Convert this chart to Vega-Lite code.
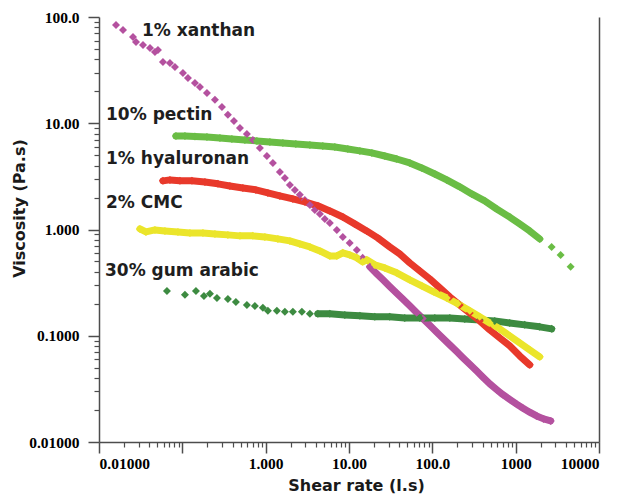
{
  "$schema": "https://vega.github.io/schema/vega-lite/v6.json",
  "width": 500,
  "height": 425,
  "autosize": "none",
  "padding": {"left": 99, "top": 17, "right": 22, "bottom": 55},
  "background": "white",
  "config": {
    "view": {"stroke": null},
    "axis": {"grid": false, "domainColor": "#4d4d4d", "tickColor": "#4d4d4d", "domainWidth": 1.5, "tickWidth": 1.5}
  },
  "datasets": {
    "flow": [
      {"sample": "1% xanthan", "rate": 0.0160, "visc": 84.1},
      {"sample": "1% xanthan", "rate": 0.0194, "visc": 75.5},
      {"sample": "1% xanthan", "rate": 0.0256, "visc": 64.8},
      {"sample": "1% xanthan", "rate": 0.0278, "visc": 58.2},
      {"sample": "1% xanthan", "rate": 0.0337, "visc": 54.5},
      {"sample": "1% xanthan", "rate": 0.0409, "visc": 51.1},
      {"sample": "1% xanthan", "rate": 0.0469, "visc": 46.9},
      {"sample": "1% xanthan", "rate": 0.0510, "visc": 48.9},
      {"sample": "1% xanthan", "rate": 0.0585, "visc": 37.7},
      {"sample": "1% xanthan", "rate": 0.0710, "visc": 36.9},
      {"sample": "1% xanthan", "rate": 0.0815, "visc": 33.9},
      {"sample": "1% xanthan", "rate": 0.1017, "visc": 29.7},
      {"sample": "1% xanthan", "rate": 0.1167, "visc": 26.7},
      {"sample": "1% xanthan", "rate": 0.1416, "visc": 23.9},
      {"sample": "1% xanthan", "rate": 0.1626, "visc": 21.9},
      {"sample": "1% xanthan", "rate": 0.1972, "visc": 19.3},
      {"sample": "1% xanthan", "rate": 0.246, "visc": 16.6},
      {"sample": "1% xanthan", "rate": 0.2985, "visc": 14.2},
      {"sample": "1% xanthan", "rate": 0.352, "visc": 12.0},
      {"sample": "1% xanthan", "rate": 0.416, "visc": 10.5},
      {"sample": "1% xanthan", "rate": 0.491, "visc": 9.03},
      {"sample": "1% xanthan", "rate": 0.595, "visc": 7.93},
      {"sample": "1% xanthan", "rate": 0.702, "visc": 6.96},
      {"sample": "1% xanthan", "rate": 0.852, "visc": 5.86},
      {"sample": "1% xanthan", "rate": 1.034, "visc": 4.92},
      {"sample": "1% xanthan", "rate": 1.220, "visc": 4.23},
      {"sample": "1% xanthan", "rate": 1.480, "visc": 3.48},
      {"sample": "1% xanthan", "rate": 1.70, "visc": 3.06},
      {"sample": "1% xanthan", "rate": 1.951, "visc": 2.63},
      {"sample": "1% xanthan", "rate": 2.24, "visc": 2.36},
      {"sample": "1% xanthan", "rate": 2.57, "visc": 2.12},
      {"sample": "1% xanthan", "rate": 2.95, "visc": 1.90},
      {"sample": "1% xanthan", "rate": 3.39, "visc": 1.70},
      {"sample": "1% xanthan", "rate": 3.89, "visc": 1.53},
      {"sample": "1% xanthan", "rate": 4.47, "visc": 1.40},
      {"sample": "1% xanthan", "rate": 5.13, "visc": 1.258},
      {"sample": "1% xanthan", "rate": 5.89, "visc": 1.15},
      {"sample": "1% xanthan", "rate": 7.14, "visc": 0.991},
      {"sample": "1% xanthan", "rate": 8.43, "visc": 0.852},
      {"sample": "1% xanthan", "rate": 10.2, "visc": 0.748},
      {"sample": "1% xanthan", "rate": 12.4, "visc": 0.643},
      {"sample": "1% xanthan", "rate": 14.6, "visc": 0.541},
      {"sample": "1% xanthan", "rate": 17.8, "visc": 0.445},
      {"sample": "1% xanthan", "rate": 21.5, "visc": 0.384},
      {"sample": "1% xanthan", "rate": 25.4, "visc": 0.338},
      {"sample": "1% xanthan", "rate": 30.8, "visc": 0.2915},
      {"sample": "1% xanthan", "rate": 37.4, "visc": 0.2517},
      {"sample": "1% xanthan", "rate": 44.2, "visc": 0.2214},
      {"sample": "1% xanthan", "rate": 53.6, "visc": 0.1911},
      {"sample": "1% xanthan", "rate": 65.0, "visc": 0.1650},
      {"sample": "1% xanthan", "rate": 76.7, "visc": 0.1451},
      {"sample": "1% xanthan", "rate": 93.1, "visc": 0.1253},
      {"sample": "1% xanthan", "rate": 113, "visc": 0.1081},
      {"sample": "1% xanthan", "rate": 133, "visc": 0.0952},
      {"sample": "1% xanthan", "rate": 162, "visc": 0.0821},
      {"sample": "1% xanthan", "rate": 196, "visc": 0.0709},
      {"sample": "1% xanthan", "rate": 231, "visc": 0.0624},
      {"sample": "1% xanthan", "rate": 281, "visc": 0.0538},
      {"sample": "1% xanthan", "rate": 341, "visc": 0.0465},
      {"sample": "1% xanthan", "rate": 402, "visc": 0.0409},
      {"sample": "1% xanthan", "rate": 488, "visc": 0.0353},
      {"sample": "1% xanthan", "rate": 592, "visc": 0.0311},
      {"sample": "1% xanthan", "rate": 698, "visc": 0.0280},
      {"sample": "1% xanthan", "rate": 847, "visc": 0.0252},
      {"sample": "1% xanthan", "rate": 1028, "visc": 0.0227},
      {"sample": "1% xanthan", "rate": 1213, "visc": 0.0209},
      {"sample": "1% xanthan", "rate": 1472, "visc": 0.0191},
      {"sample": "1% xanthan", "rate": 1786, "visc": 0.0176},
      {"sample": "1% xanthan", "rate": 2167, "visc": 0.0165},
      {"sample": "1% xanthan", "rate": 2630, "visc": 0.0158},

      {"sample": "30% gum arabic", "rate": 0.0654, "visc": 0.264},
      {"sample": "30% gum arabic", "rate": 0.1074, "visc": 0.243},
      {"sample": "30% gum arabic", "rate": 0.1456, "visc": 0.264},
      {"sample": "30% gum arabic", "rate": 0.1816, "visc": 0.237},
      {"sample": "30% gum arabic", "rate": 0.2143, "visc": 0.248},
      {"sample": "30% gum arabic", "rate": 0.260, "visc": 0.227},
      {"sample": "30% gum arabic", "rate": 0.352, "visc": 0.222},
      {"sample": "30% gum arabic", "rate": 0.439, "visc": 0.208},
      {"sample": "30% gum arabic", "rate": 0.595, "visc": 0.195},
      {"sample": "30% gum arabic", "rate": 0.742, "visc": 0.191},
      {"sample": "30% gum arabic", "rate": 0.926, "visc": 0.183},
      {"sample": "30% gum arabic", "rate": 1.063, "visc": 0.1715},
      {"sample": "30% gum arabic", "rate": 1.362, "visc": 0.1715},
      {"sample": "30% gum arabic", "rate": 1.70, "visc": 0.168},
      {"sample": "30% gum arabic", "rate": 2.12, "visc": 0.168},
      {"sample": "30% gum arabic", "rate": 2.72, "visc": 0.168},
      {"sample": "30% gum arabic", "rate": 3.39, "visc": 0.1607},
      {"sample": "30% gum arabic", "rate": 4.23, "visc": 0.1607},
      {"sample": "30% gum arabic", "rate": 5.89, "visc": 0.1607},
      {"sample": "30% gum arabic", "rate": 8.90, "visc": 0.157},
      {"sample": "30% gum arabic", "rate": 13.5, "visc": 0.154},
      {"sample": "30% gum arabic", "rate": 20.4, "visc": 0.151},
      {"sample": "30% gum arabic", "rate": 30.8, "visc": 0.151},
      {"sample": "30% gum arabic", "rate": 46.7, "visc": 0.147},
      {"sample": "30% gum arabic", "rate": 70.6, "visc": 0.147},
      {"sample": "30% gum arabic", "rate": 107, "visc": 0.147},
      {"sample": "30% gum arabic", "rate": 162, "visc": 0.147},
      {"sample": "30% gum arabic", "rate": 245, "visc": 0.144},
      {"sample": "30% gum arabic", "rate": 370, "visc": 0.141},
      {"sample": "30% gum arabic", "rate": 560, "visc": 0.138},
      {"sample": "30% gum arabic", "rate": 847, "visc": 0.132},
      {"sample": "30% gum arabic", "rate": 1282, "visc": 0.1266},
      {"sample": "30% gum arabic", "rate": 1941, "visc": 0.1213},
      {"sample": "30% gum arabic", "rate": 2703, "visc": 0.1161},

      {"sample": "10% pectin", "rate": 0.0838, "visc": 7.59},
      {"sample": "10% pectin", "rate": 0.1074, "visc": 7.59},
      {"sample": "10% pectin", "rate": 0.1416, "visc": 7.51},
      {"sample": "10% pectin", "rate": 0.1972, "visc": 7.43},
      {"sample": "10% pectin", "rate": 0.2825, "visc": 7.27},
      {"sample": "10% pectin", "rate": 0.393, "visc": 7.12},
      {"sample": "10% pectin", "rate": 0.563, "visc": 6.96},
      {"sample": "10% pectin", "rate": 0.784, "visc": 6.82},
      {"sample": "10% pectin", "rate": 1.123, "visc": 6.67},
      {"sample": "10% pectin", "rate": 1.608, "visc": 6.53},
      {"sample": "10% pectin", "rate": 2.30, "visc": 6.39},
      {"sample": "10% pectin", "rate": 3.39, "visc": 6.25},
      {"sample": "10% pectin", "rate": 4.85, "visc": 6.12},
      {"sample": "10% pectin", "rate": 6.76, "visc": 5.98},
      {"sample": "10% pectin", "rate": 9.68, "visc": 5.73},
      {"sample": "10% pectin", "rate": 13.5, "visc": 5.49},
      {"sample": "10% pectin", "rate": 18.8, "visc": 5.26},
      {"sample": "10% pectin", "rate": 26.9, "visc": 4.92},
      {"sample": "10% pectin", "rate": 37.4, "visc": 4.61},
      {"sample": "10% pectin", "rate": 53.6, "visc": 4.23},
      {"sample": "10% pectin", "rate": 74.6, "visc": 3.80},
      {"sample": "10% pectin", "rate": 107, "visc": 3.33},
      {"sample": "10% pectin", "rate": 149, "visc": 2.93},
      {"sample": "10% pectin", "rate": 213, "visc": 2.52},
      {"sample": "10% pectin", "rate": 297, "visc": 2.16},
      {"sample": "10% pectin", "rate": 425, "visc": 1.86},
      {"sample": "10% pectin", "rate": 592, "visc": 1.56},
      {"sample": "10% pectin", "rate": 847, "visc": 1.31},
      {"sample": "10% pectin", "rate": 1117, "visc": 1.129},
      {"sample": "10% pectin", "rate": 1472, "visc": 0.970},
      {"sample": "10% pectin", "rate": 1941, "visc": 0.816},
      {"sample": "10% pectin", "rate": 2703, "visc": 0.686},
      {"sample": "10% pectin", "rate": 3465, "visc": 0.577},
      {"sample": "10% pectin", "rate": 4566, "visc": 0.445},

      {"sample": "1% hyaluronan", "rate": 0.0585, "visc": 2.87},
      {"sample": "1% hyaluronan", "rate": 0.0710, "visc": 2.93},
      {"sample": "1% hyaluronan", "rate": 0.0936, "visc": 2.87},
      {"sample": "1% hyaluronan", "rate": 0.1303, "visc": 2.87},
      {"sample": "1% hyaluronan", "rate": 0.1866, "visc": 2.80},
      {"sample": "1% hyaluronan", "rate": 0.2673, "visc": 2.69},
      {"sample": "1% hyaluronan", "rate": 0.372, "visc": 2.57},
      {"sample": "1% hyaluronan", "rate": 0.533, "visc": 2.46},
      {"sample": "1% hyaluronan", "rate": 0.763, "visc": 2.36},
      {"sample": "1% hyaluronan", "rate": 1.063, "visc": 2.21},
      {"sample": "1% hyaluronan", "rate": 1.480, "visc": 2.07},
      {"sample": "1% hyaluronan", "rate": 2.12, "visc": 1.94},
      {"sample": "1% hyaluronan", "rate": 2.95, "visc": 1.82},
      {"sample": "1% hyaluronan", "rate": 4.23, "visc": 1.67},
      {"sample": "1% hyaluronan", "rate": 5.89, "visc": 1.496},
      {"sample": "1% hyaluronan", "rate": 8.43, "visc": 1.31},
      {"sample": "1% hyaluronan", "rate": 11.7, "visc": 1.129},
      {"sample": "1% hyaluronan", "rate": 16.3, "visc": 0.970},
      {"sample": "1% hyaluronan", "rate": 22.1, "visc": 0.834},
      {"sample": "1% hyaluronan", "rate": 30.8, "visc": 0.686},
      {"sample": "1% hyaluronan", "rate": 40.6, "visc": 0.589},
      {"sample": "1% hyaluronan", "rate": 53.6, "visc": 0.485},
      {"sample": "1% hyaluronan", "rate": 70.6, "visc": 0.408},
      {"sample": "1% hyaluronan", "rate": 93.1, "visc": 0.343},
      {"sample": "1% hyaluronan", "rate": 123, "visc": 0.282},
      {"sample": "1% hyaluronan", "rate": 162, "visc": 0.232},
      {"sample": "1% hyaluronan", "rate": 213, "visc": 0.195},
      {"sample": "1% hyaluronan", "rate": 281, "visc": 0.164},
      {"sample": "1% hyaluronan", "rate": 370, "visc": 0.138},
      {"sample": "1% hyaluronan", "rate": 488, "visc": 0.1136},
      {"sample": "1% hyaluronan", "rate": 643, "visc": 0.0955},
      {"sample": "1% hyaluronan", "rate": 847, "visc": 0.0804},
      {"sample": "1% hyaluronan", "rate": 1117, "visc": 0.0647},
      {"sample": "1% hyaluronan", "rate": 1472, "visc": 0.0532},

      {"sample": "2% CMC", "rate": 0.0310, "visc": 1.013},
      {"sample": "2% CMC", "rate": 0.0366, "visc": 0.949},
      {"sample": "2% CMC", "rate": 0.0469, "visc": 0.991},
      {"sample": "2% CMC", "rate": 0.0618, "visc": 0.970},
      {"sample": "2% CMC", "rate": 0.0886, "visc": 0.949},
      {"sample": "2% CMC", "rate": 0.1233, "visc": 0.929},
      {"sample": "2% CMC", "rate": 0.1766, "visc": 0.929},
      {"sample": "2% CMC", "rate": 0.246, "visc": 0.909},
      {"sample": "2% CMC", "rate": 0.352, "visc": 0.890},
      {"sample": "2% CMC", "rate": 0.491, "visc": 0.871},
      {"sample": "2% CMC", "rate": 0.702, "visc": 0.871},
      {"sample": "2% CMC", "rate": 0.978, "visc": 0.852},
      {"sample": "2% CMC", "rate": 1.401, "visc": 0.816},
      {"sample": "2% CMC", "rate": 1.951, "visc": 0.781},
      {"sample": "2% CMC", "rate": 2.57, "visc": 0.732},
      {"sample": "2% CMC", "rate": 3.39, "visc": 0.686},
      {"sample": "2% CMC", "rate": 4.47, "visc": 0.629},
      {"sample": "2% CMC", "rate": 5.89, "visc": 0.564},
      {"sample": "2% CMC", "rate": 7.14, "visc": 0.564},
      {"sample": "2% CMC", "rate": 8.43, "visc": 0.603},
      {"sample": "2% CMC", "rate": 10.2, "visc": 0.577},
      {"sample": "2% CMC", "rate": 12.4, "visc": 0.541},
      {"sample": "2% CMC", "rate": 14.6, "visc": 0.496},
      {"sample": "2% CMC", "rate": 16.3, "visc": 0.518},
      {"sample": "2% CMC", "rate": 20.4, "visc": 0.465},
      {"sample": "2% CMC", "rate": 26.9, "visc": 0.435},
      {"sample": "2% CMC", "rate": 37.4, "visc": 0.391},
      {"sample": "2% CMC", "rate": 53.6, "visc": 0.336},
      {"sample": "2% CMC", "rate": 74.6, "visc": 0.295},
      {"sample": "2% CMC", "rate": 104, "visc": 0.259},
      {"sample": "2% CMC", "rate": 149, "visc": 0.227},
      {"sample": "2% CMC", "rate": 202, "visc": 0.200},
      {"sample": "2% CMC", "rate": 281, "visc": 0.1715},
      {"sample": "2% CMC", "rate": 370, "visc": 0.151},
      {"sample": "2% CMC", "rate": 488, "visc": 0.132},
      {"sample": "2% CMC", "rate": 643, "visc": 0.1161},
      {"sample": "2% CMC", "rate": 847, "visc": 0.0998},
      {"sample": "2% CMC", "rate": 1117, "visc": 0.0857},
      {"sample": "2% CMC", "rate": 1472, "visc": 0.0737},
      {"sample": "2% CMC", "rate": 1941, "visc": 0.0633}
    ],
    "labels": [
      {"label": "1% xanthan", "x": 0.0328, "y": 73.8},
      {"label": "10% pectin", "x": 0.01214, "y": 11.97},
      {"label": "1% hyaluronan", "x": 0.01214, "y": 4.61},
      {"label": "2% CMC", "x": 0.01214, "y": 1.78},
      {"label": "30% gum arabic", "x": 0.0118, "y": 0.408}
    ]
  },
  "layer": [
    {
      "data": {"name": "flow"},
      "transform": [
        {"filter": "(datum.sample != '1% xanthan' || datum.rate >= 17) && (datum.sample != '30% gum arabic' || datum.rate >= 4) && (datum.sample != '10% pectin' || datum.rate <= 2000)"}
      ],
      "mark": {"type": "line", "strokeWidth": 7, "strokeCap": "round", "strokeJoin": "round"},
      "encoding": {
        "x": {
          "field": "rate", "type": "quantitative",
          "scale": {"type": "log", "domain": [0.01, 10000], "nice": false},
          "axis": {
            "orient": "bottom",
            "values": [0.01, 0.1, 1, 10, 100, 1000, 10000],
            "format": ".4r",
            "labelExpr": "datum.value > 0.05 && datum.value < 0.5 ? '' : datum.label",
            "tickSize": 11,
            "labelPadding": 3,
            "labelFont": "Liberation Serif",
            "labelFontWeight": "bold",
            "labelFontSize": 15.5,
            "labelColor": "#000000",
            "title": "Shear rate (l.s)",
            "titleFont": "DejaVu Sans",
            "titleFontWeight": "bold",
            "titleFontSize": 16,
            "titleColor": "#1a1a1a",
            "titleX": 257,
            "titleY": 43,
            "titleBaseline": "middle"
          }
        },
        "y": {
          "field": "visc", "type": "quantitative",
          "scale": {"type": "log", "domain": [0.01, 100], "nice": false},
          "axis": {
            "orient": "left",
            "values": [0.01, 0.1, 1, 10, 100],
            "format": ".4r",
            "tickSize": 11,
            "labelPadding": 9,
            "labelFont": "Liberation Serif",
            "labelFontWeight": "bold",
            "labelFontSize": 15.5,
            "labelColor": "#000000",
            "title": "Viscosity (Pa.s)",
            "titleFont": "DejaVu Sans",
            "titleFontWeight": "bold",
            "titleFontSize": 16,
            "titleColor": "#1a1a1a",
            "titleX": -80,
            "titleY": 191,
            "titleBaseline": "middle"
          }
        },
        "color": {
          "field": "sample", "type": "nominal",
          "scale": {
            "domain": ["1% xanthan", "30% gum arabic", "10% pectin", "1% hyaluronan", "2% CMC"],
            "range": ["#b4519f", "#3d8b41", "#6abd45", "#e8392b", "#ebe52b"]
          },
          "legend": null
        }
      }
    },
    {
      "data": {"name": "flow"},
      "mark": {"type": "point", "shape": "diamond", "filled": true, "size": 64, "opacity": 1},
      "encoding": {
        "x": {
          "field": "rate", "type": "quantitative",
          "scale": {"type": "log", "domain": [0.01, 10000], "nice": false},
          "axis": {
            "orient": "bottom",
            "values": [0.02, 0.03, 0.04, 0.05, 0.06, 0.07, 0.08, 0.09, 0.2, 0.3, 0.4, 0.5, 0.6, 0.7, 0.8, 0.9, 2, 3, 4, 5, 6, 7, 8, 9, 20, 30, 40, 50, 60, 70, 80, 90, 200, 300, 400, 500, 600, 700, 800, 900, 2000, 3000, 4000, 5000, 6000, 7000, 8000, 9000],
            "labels": false, "domain": false, "tickSize": 5, "tickWidth": 1.2, "title": null
          }
        },
        "y": {
          "field": "visc", "type": "quantitative",
          "scale": {"type": "log", "domain": [0.01, 100], "nice": false},
          "axis": {
            "orient": "left",
            "values": [0.02, 0.03, 0.04, 0.05, 0.06, 0.07, 0.08, 0.09, 0.2, 0.3, 0.4, 0.5, 0.6, 0.7, 0.8, 0.9, 2, 3, 4, 5, 6, 7, 8, 9, 20, 30, 40, 50, 60, 70, 80, 90],
            "labels": false, "domain": false, "tickSize": 5, "tickWidth": 1.2, "title": null
          }
        },
        "color": {
          "field": "sample", "type": "nominal",
          "scale": {
            "domain": ["1% xanthan", "30% gum arabic", "10% pectin", "1% hyaluronan", "2% CMC"],
            "range": ["#b4519f", "#3d8b41", "#6abd45", "#e8392b", "#ebe52b"]
          },
          "legend": null
        }
      }
    },
    {
      "data": {"name": "labels"},
      "mark": {"type": "text", "align": "left", "baseline": "middle", "font": "DejaVu Sans", "fontWeight": "bold", "fontSize": 17, "color": "#1e1e1e"},
      "encoding": {
        "x": {"field": "x", "type": "quantitative", "scale": {"type": "log", "domain": [0.01, 10000], "nice": false}, "axis": null},
        "y": {
          "field": "y", "type": "quantitative",
          "scale": {"type": "log", "domain": [0.01, 100], "nice": false},
          "axis": {"orient": "right", "ticks": false, "labels": false, "title": null, "domain": true}
        },
        "text": {"field": "label"}
      }
    }
  ],
  "resolve": {"axis": {"x": "independent", "y": "independent"}}
}
